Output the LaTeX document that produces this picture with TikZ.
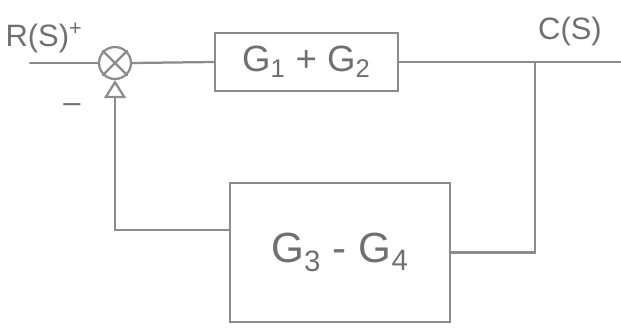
\documentclass[tikz,border=0pt]{standalone}
\usepackage{fontspec}
\setmainfont{Liberation Sans}
\usetikzlibrary{arrows.meta,positioning}
\definecolor{pencil}{HTML}{8C8C8C}
\tikzset{
  pen/.style={draw=pencil, line width=1.6pt, line cap=round},
  blk/.style={pen, rectangle, align=center, text=pencil!80!black, font=\fontsize{26}{28}\selectfont},
  sumj/.style={pen, circle, minimum size=0.8cm, inner sep=0pt},
  lbl/.style={text=pencil!80!black, font=\fontsize{22}{24}\selectfont},
  tri/.style={-{Triangle[open, length=4.5mm, width=5.5mm, line width=1.6pt]}},
}
\begin{document}
\begin{tikzpicture}

\useasboundingbox (0,0) rectangle (15.525,8.4);

% Summing junction and forward block
\node[sumj] (sum) at (2.875,6.825) {};
\draw[pen] (sum.north west) -- (sum.south east);
\draw[pen] (sum.north east) -- (sum.south west);
\node[blk, minimum width=4.575cm, minimum height=1.45cm] (fwd) at (7.66,6.85) {G\textsubscript{1} + G\textsubscript{2}};

% Feedback block
\node[blk, minimum width=5.5cm, minimum height=3.475cm, font=\fontsize{30}{32}\selectfont] (fb) at (8.5,2.09) {G\textsubscript{3} - G\textsubscript{4}};

% Labels
\node[lbl] (rin) at (1.1,7.45) {R(S)\textsuperscript{+}};
\node[lbl] (cout) at (14.25,7.6) {C(S)};
\node[lbl] (minus) at (1.8,5.7) {–};

% Input and output
\coordinate (inp) at (0.75,6.825);
\coordinate (outp) at (15.525,6.85);
\coordinate (branch) at (13.375,6.85);
\draw[pen] (inp) -- (sum.west);
\draw[pen] (sum.east) -- (fwd.west);
\draw[pen] (fwd.east) -- (outp);

% Feedback path
\draw[pen] (branch) |- (fb.east);
\draw[pen, tri] ([yshift=0.56cm]fb.west) -| (sum.south);

\end{tikzpicture}
\end{document}
